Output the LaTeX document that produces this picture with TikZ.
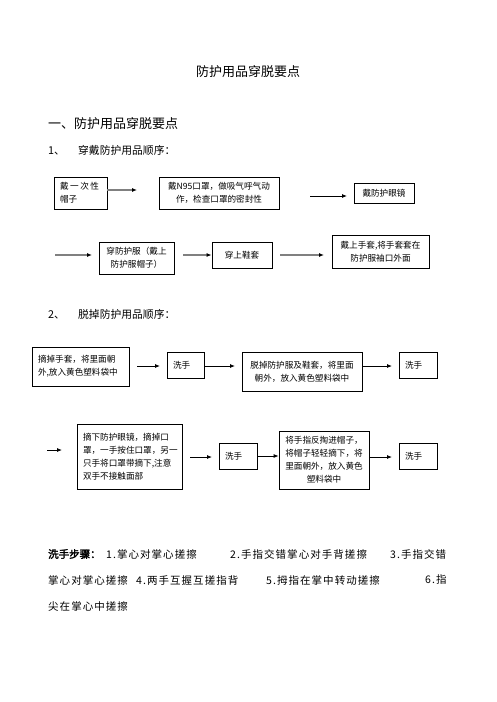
\documentclass[tikz,border=0pt]{standalone}
\usepackage{fontspec}
\setmainfont{Noto Sans CJK SC}
\newfontfamily\cjkbold[FakeBold=2.5]{Noto Sans CJK SC}
\newfontfamily\cjkwide[LetterSpace=10]{Noto Sans CJK SC}
\usetikzlibrary{arrows.meta}
\tikzset{
    box/.style={draw, line width=0.8pt, inner xsep=6pt, inner ysep=2pt,
                font=\fontsize{8.6}{13}\selectfont},
    txt/.style={inner sep=0pt, anchor=west},
    garr/.style={draw=gray, line width=1.4pt, -{Latex[color=black,length=5pt,width=4pt]}},
    barr/.style={line width=0.8pt, -{Latex[length=5pt,width=4pt]}}
}
\begin{document}
\begin{tikzpicture}[x=1pt,y=-1pt]
        \useasboundingbox (0,0) rectangle (496,702);

        % Titel
        \node[font=\fontsize{13}{15}\selectfont] (titel) at (248,72) {防护用品穿脱要点};
        \node[txt, font=\fontsize{13}{15}\selectfont] (kapitel) at (48,124) {一、防护用品穿脱要点};
        \node[txt, font=\fontsize{10.8}{13}\selectfont] (anziehen) at (48,150) {\makebox[30pt][l]{1、}穿戴防护用品顺序：};

        % Anziehen, Zeile 1
        \node[box, text width=41pt, minimum height=32pt, align=left] (hut) at (80.5,193)
            {\makebox[39pt][s]{戴\hfill 一\hfill 次\hfill 性}\\帽子};
        \node[box, text width=112pt, inner xsep=4pt, minimum height=32pt, align=center] (maske) at (219,193)
            {戴N95口罩，做吸气呼气动\\作，检查口罩的密封性};
        \node[box, text width=48pt, minimum height=20pt, align=center] (brille) at (384,193) {戴防护眼镜};
        \coordinate (a1) at (137,190);
        \coordinate (a2s) at (310,196);
        \coordinate (a2) at (347,196);
        \draw[garr] (hut.east |- a1) -- (a1);
        \draw[barr] (a2s) -- (a2);

        % Anziehen, Zeile 2
        \node[box, text width=63pt, minimum height=32pt, align=center] (anzug) at (136.5,258) {穿防护服（戴上\\防护服帽子）};
        \node[box, text width=48pt, minimum height=26pt, align=center] (schuhe) at (242,255) {穿上鞋套\\[3pt]};
        \node[box, text width=85pt, minimum height=33pt, align=center] (handschuh) at (380.5,251.5)
            {戴上手套,将手套套在\\防护服袖口外面};
        \coordinate (a3s) at (55,255);
        \coordinate (a3) at (92,255);
        \coordinate (a4s) at (183,255);
        \coordinate (a5s) at (280,255);
        \coordinate (a5) at (324,255);
        \draw[garr] (a3s) -- (a3);
        \draw[garr] (a4s) -- (schuhe.west);
        \draw[garr] (a5s) -- (a5);

        % Ausziehen, Zeile 1
        \node[txt, font=\fontsize{10.8}{13}\selectfont] (ausziehen) at (48,314) {\makebox[30pt][l]{2、}脱掉防护用品顺序：};
        \node[box, text width=85pt, minimum height=39pt, align=left] (hsab) at (80.5,366.5)
            {摘掉手套，将里面朝\\外,放入黄色塑料袋中};
        \node[box, text width=25pt, minimum height=26pt, align=left] (wasch1) at (185.5,365) {洗手};
        \node[box, text width=108pt, minimum height=39pt, align=center] (anzugab) at (302,371.5)
            {脱掉防护服及鞋套，将里面\\朝外，放入黄色塑料袋中};
        \node[box, text width=26pt, minimum height=26pt, align=left] (wasch2) at (418,365) {洗手};
        \coordinate (a6s) at (137,366);
        \coordinate (a6) at (160,366);
        \coordinate (a7) at (235,366);
        \coordinate (a8) at (392,366);
        \draw[barr] (a6s) -- (a6);
        \draw[barr] (wasch1.east |- a7) -- (a7);
        \draw[barr] (anzugab.east |- a8) -- (a8);

        % Ausziehen, Zeile 2
        \node[box, text width=93pt, minimum height=65pt, align=left] (brilleab) at (129.5,456.5)
            {摘下防护眼镜，摘掉口\\罩，一手按住口罩，另一\\只手将口罩带摘下,注意\\双手不接触面部};
        \node[box, text width=26pt, minimum height=26pt, align=left] (wasch3) at (238,456) {洗手};
        \node[box, text width=78pt, minimum height=58pt, align=center] (hutab) at (324,460)
            {将手指反掏进帽子，\\将帽子轻轻摘下，将\\里面朝外，放入黄色\\塑料袋中};
        \node[box, text width=26pt, minimum height=26pt, align=left] (wasch4) at (418,456) {洗手};
        \coordinate (a9s) at (47,450);
        \coordinate (a9) at (62,450);
        \coordinate (a10s) at (190,457);
        \coordinate (a10) at (212,457);
        \coordinate (a12) at (392,457);
        \draw[barr] (a9s) -- (a9);
        \draw[barr] (a10s) -- (a10);
        \draw[barr] (wasch3.east) -- (wasch3.east -| hutab.west);
        \draw[barr] (hutab.east |- a12) -- (a12);

        % Händewaschen
        \begin{scope}[every node/.style={txt, font=\cjkwide\fontsize{10.5}{13}\selectfont}]
            \node[font=\cjkbold\fontsize{10.5}{13}\selectfont] (schritte) at (48,554) {洗手步骤：};
            \node (s1) at (106,554) {1.掌心对掌心搓擦};
            \node (s2) at (230,554) {2.手指交错掌心对手背搓擦};
            \node (s3a) at (390,554) {3.手指交错};
            \node (s3b) at (48,580) {掌心对掌心搓擦};
            \node (s4) at (136,580) {4.两手互握互搓指背};
            \node (s5) at (266,580) {5.拇指在掌中转动搓擦};
            \node (s6a) at (425,580) {6.指};
            \node (s6b) at (48,606) {尖在掌心中搓擦};
        \end{scope}
    \end{tikzpicture}
\end{document}
